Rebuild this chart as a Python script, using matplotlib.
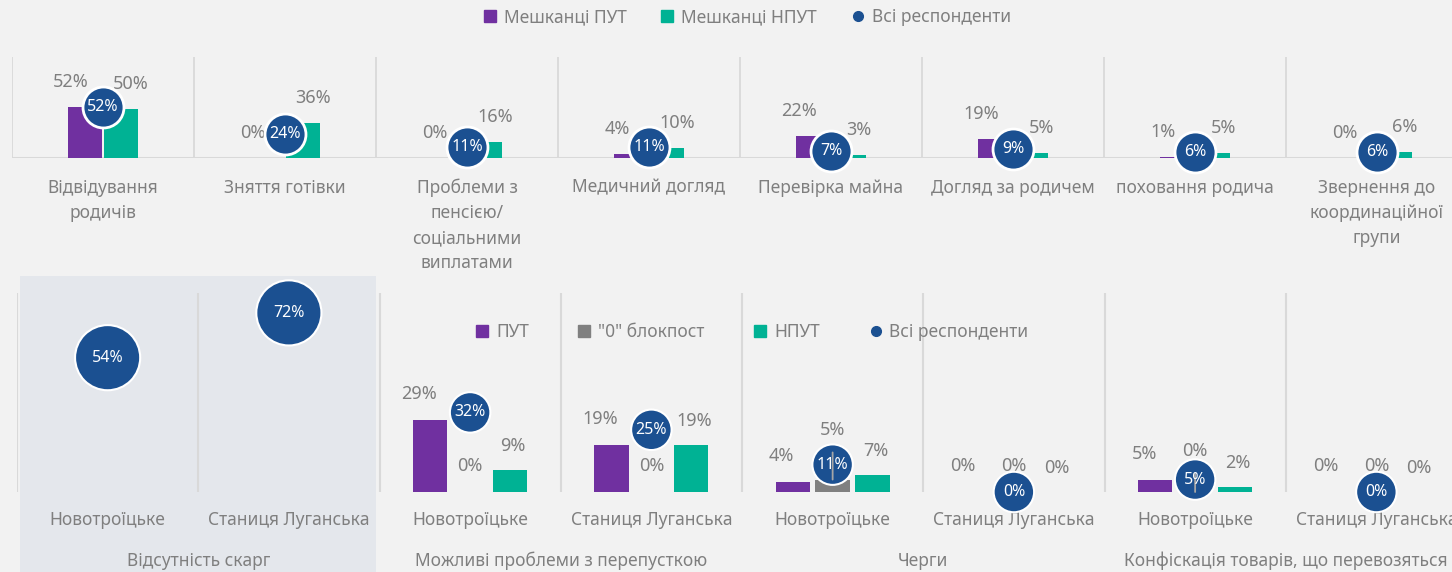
import numpy as np
import matplotlib.pyplot as plt
from matplotlib.patches import Rectangle
from matplotlib.lines import Line2D

plt.rcParams['font.family'] = ['Noto Sans', 'DejaVu Sans']

# top chart: reasons for crossing
top_cats = ['Відвідування\nродичів', 'Зняття готівки', 'Проблеми з\nпенсією/\nсоціальними\nвиплатами',
            'Медичний догляд', 'Перевірка майна', 'Догляд за родичем', 'поховання родича',
            'Звернення до\nкоординаційної\nгрупи']
top_put = [52, 0, 0, 4, 22, 19, 1, 0]
top_nput = [50, 36, 16, 10, 3, 5, 5, 6]
top_all = [52, 24, 11, 11, 7, 9, 6, 6]

# bottom chart: complaints by checkpoint
bot_groups = ['Відсутність скарг', 'Можливі проблеми з перепусткою', 'Черги',
              'Конфіскація товарів, що перевозяться']
bot_sites = ['Новотроїцьке', 'Станиця Луганська']
bot_put = [np.nan, np.nan, 29, 19, 4, 0, 5, 0]
bot_zero = [np.nan, np.nan, 0, 0, 5, 0, 0, 0]
bot_nput = [np.nan, np.nan, 9, 19, 7, 0, 2, 0]
bot_all = [54, 72, 32, 25, 11, 0, 5, 0]

PURPLE = '#7030A0'
TEAL = '#00B294'
GREY = '#808080'
NAVY = '#1B5091'
TXT = '#7F7F7F'
LINE = '#D9D9D9'
W, H = 1452, 572

fig = plt.figure(figsize=(W / 100, H / 100), dpi=100)
fig.patch.set_facecolor('#F2F2F2')


def px_axes(l, t, r, b):
    ax = fig.add_axes([l / W, 1 - b / H, (r - l) / W, (b - t) / H])
    ax.patch.set_visible(False)
    for s in ax.spines.values():
        s.set_visible(False)
    ax.set_yticks([])
    ax.tick_params(axis='x', length=0, colors=TXT, labelsize=12.5)
    return ax


def label(ax, x, y, txt, dx, dy, **kw):
    ax.annotate(txt, (x, y), xytext=(dx, dy), textcoords='offset pixels',
                ha='center', va='center', color=TXT, fontsize=13, **kw)


# shaded block behind "no complaints" group
fig.add_artist(Rectangle((20 / W, 0), (376 - 20) / W, (572 - 276) / H,
                         transform=fig.transFigure, facecolor='#E4E7EC',
                         edgecolor='none', zorder=-1))

# ---------- top chart ----------
ax1 = px_axes(12, 57, 12 + 8 * 182, 158)
x = np.arange(len(top_cats))
ax1.set_xlim(-0.5, 7.5)
ax1.set_ylim(0, 103)
for i in range(len(top_cats) + 1):
    ax1.axvline(i - 0.5, color=LINE, lw=1.3, zorder=0)
ax1.axhline(0, color=LINE, lw=2.2, zorder=1)
ax1.bar(x - 0.099, top_put, 0.19, color=PURPLE, zorder=2)
ax1.bar(x + 0.099, top_nput, 0.19, color=TEAL, zorder=2)
ax1.scatter(x, top_all, s=870, color=NAVY, edgecolor='white', linewidth=2, zorder=4,
            clip_on=False)
for i in range(len(top_cats)):
    label(ax1, x[i] - 0.099, top_put[i], f'{top_put[i]}%', -14, 25)
    label(ax1, x[i] + 0.099, top_nput[i], f'{top_nput[i]}%', 10, 25)
    ax1.text(x[i], top_all[i], f'{top_all[i]}%', ha='center', va='center',
             color='white', fontsize=11.5, zorder=5)
ax1.set_xticks(x)
ax1.set_xticklabels(top_cats, linespacing=1.5)
ax1.tick_params(axis='x', pad=15)

h_top = [Line2D([], [], marker='s', ls='none', color=PURPLE, markersize=8),
         Line2D([], [], marker='s', ls='none', color=TEAL, markersize=8),
         Line2D([], [], marker='o', ls='none', color=NAVY, markersize=7)]
fig.legend(h_top, ['Мешканці ПУТ', 'Мешканці НПУТ', 'Всі респонденти'], loc='center',
           bbox_to_anchor=(746 / W, 1 - 17 / H), ncol=3, frameon=False, fontsize=12.5,
           labelcolor=TXT, handletextpad=0.3, columnspacing=1.85, handlelength=1)

# ---------- bottom chart ----------
ax2 = px_axes(17, 293, 17 + 8 * 181.25, 492)
xb = np.arange(len(bot_all))
ax2.set_xlim(-0.5, 7.5)
ax2.set_ylim(0, 80)
for i in range(len(bot_all) + 1):
    ax2.axvline(i - 0.5, color=LINE, lw=1.5, zorder=0)
ax2.bar(xb - 0.22, bot_put, 0.19, color=PURPLE, zorder=2)
ax2.bar(xb, bot_zero, 0.19, color=GREY, zorder=2)
ax2.bar(xb + 0.22, bot_nput, 0.19, color=TEAL, zorder=2)
dot_sizes = [2200 if i < 2 else 850 for i in range(len(bot_all))]
ax2.scatter(xb, bot_all, s=dot_sizes, color=NAVY, edgecolor='white', linewidth=1.5, zorder=4,
            clip_on=False)
grey_lift = {4: 50, 6: 41}
for i in range(len(bot_all)):
    ax2.text(xb[i], bot_all[i], f'{bot_all[i]}%', ha='center', va='center',
             color='white', fontsize=11.5, zorder=6)
    if np.isnan(bot_put[i]):
        continue
    label(ax2, xb[i] - 0.22, bot_put[i], f'{bot_put[i]:.0f}%', -11, 26)
    label(ax2, xb[i] + 0.22, bot_nput[i], f'{bot_nput[i]:.0f}%', 3, 24)
    if i in grey_lift:
        label(ax2, xb[i], bot_zero[i], f'{bot_zero[i]:.0f}%', 0, grey_lift[i], zorder=5,
              arrowprops=dict(arrowstyle='-', color='#A6A6A6', lw=1.3, shrinkA=8, shrinkB=0))
    else:
        label(ax2, xb[i], bot_zero[i], f'{bot_zero[i]:.0f}%', 0, 26)
ax2.set_xticks(xb)
ax2.set_xticklabels(bot_sites * len(bot_groups))
ax2.tick_params(axis='x', pad=14)
for g, name in enumerate(bot_groups):
    ax2.text(2 * g + 0.5, -0.347, name, transform=ax2.get_xaxis_transform(),
             ha='center', va='center', color=TXT, fontsize=12.5)

h_bot = [Line2D([], [], marker='s', ls='none', color=PURPLE, markersize=8),
         Line2D([], [], marker='s', ls='none', color=GREY, markersize=8),
         Line2D([], [], marker='s', ls='none', color=TEAL, markersize=8),
         Line2D([], [], marker='o', ls='none', color=NAVY, markersize=7)]
ax2.legend(h_bot, ['ПУТ', '"0" блокпост', 'НПУТ', 'Всі респонденти'], loc='center',
           bbox_to_anchor=(751 / W, 1 - 332 / H), bbox_transform=fig.transFigure, ncol=4,
           frameon=False, fontsize=12.5, labelcolor=TXT, handletextpad=0.3,
           columnspacing=2.7, handlelength=1)

fig.savefig('out.png', dpi=100, facecolor=fig.get_facecolor())
